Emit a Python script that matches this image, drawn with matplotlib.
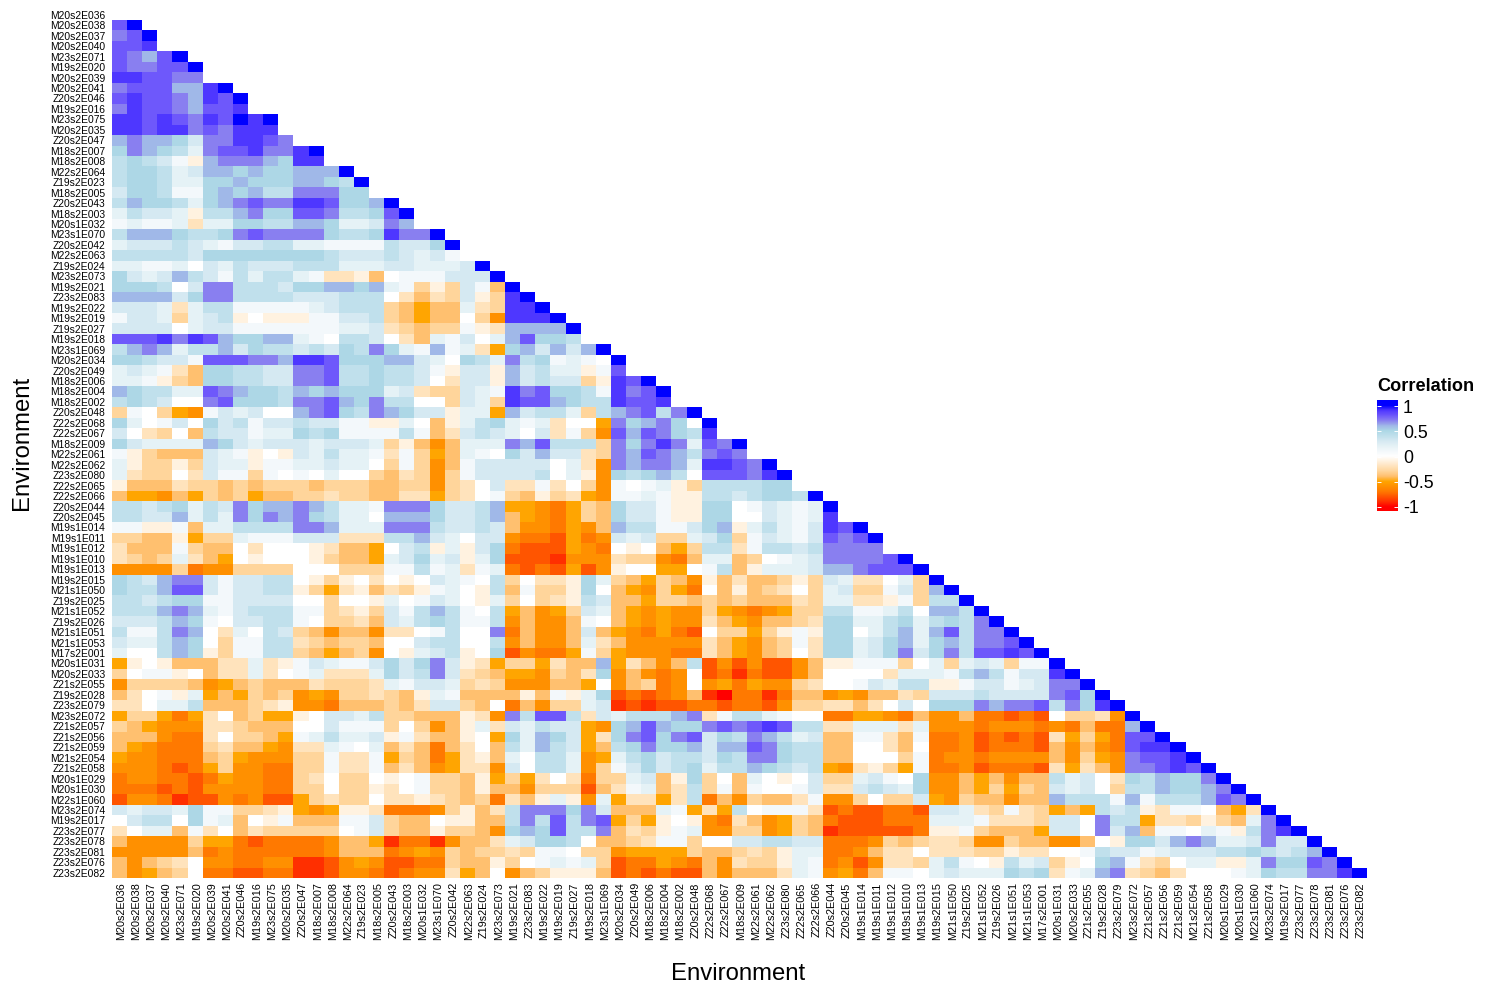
import numpy as np
import matplotlib
matplotlib.use("Agg")
import matplotlib.pyplot as plt
from matplotlib.colors import LinearSegmentedColormap, Normalize
from matplotlib.transforms import ScaledTranslation

plt.rcParams['font.family'] = ['Liberation Sans', 'DejaVu Sans']

environments = """M20s2E036 M20s2E038 M20s2E037 M20s2E040 M23s2E071 M19s2E020 M20s2E039 M20s2E041 Z20s2E046 M19s2E016
M23s2E075 M20s2E035 Z20s2E047 M18s2E007 M18s2E008 M22s2E064 Z19s2E023 M18s2E005 Z20s2E043 M18s2E003
M20s1E032 M23s1E070 Z20s2E042 M22s2E063 Z19s2E024 M23s2E073 M19s2E021 Z23s2E083 M19s2E022 M19s2E019
Z19s2E027 M19s2E018 M23s1E069 M20s2E034 Z20s2E049 M18s2E006 M18s2E004 M18s2E002 Z20s2E048 Z22s2E068
Z22s2E067 M18s2E009 M22s2E061 M22s2E062 Z23s2E080 Z22s2E065 Z22s2E066 Z20s2E044 Z20s2E045 M19s1E014
M19s1E011 M19s1E012 M19s1E010 M19s1E013 M19s2E015 M21s1E050 Z19s2E025 M21s1E052 Z19s2E026 M21s1E051
M21s1E053 M17s2E001 M20s1E031 M20s2E033 Z21s2E055 Z19s2E028 Z23s2E079 M23s2E072 Z21s2E057 Z21s2E056
Z21s2E059 M21s2E054 Z21s2E058 M20s1E029 M20s1E030 M22s1E060 M23s2E074 M19s2E017 Z23s2E077 Z23s2E078
Z23s2E081 Z23s2E076 Z23s2E082""".split()

# One string per row, one character per cell in steps of 0.1:
# 1..9 = 0.1..0.9, X = 1, 0 = 0, a..i = -0.1..-0.9, j = -1
codes = {'0': 0.0, 'X': 1.0, 'j': -1.0}
codes.update({str(k): k / 10 for k in range(1, 10)})
codes.update({c: -(k + 1) / 10 for k, c in enumerate("abcdefghi")})

correlation_rows = [
    "",
    "8X",
    "78X",
    "889",
    "8768X",
    "87788X",
    "998877",
    "7888669X",
    "89887698X",
    "798876889",
    "99898798X9X",
    "99899787999",
    "676653779987",
    "5765427889779X",
    "45431a67776599",
    "455423665655666X",
    "4554225565556654X",
    "35541156564477755",
    "465542567877998556X",
    "24332a4467558874458X",
    "12112b22554466522376",
    "466654457877775445977X",
    "2333432133442211114335X",
    "44444355555555433343231",
    "221120324333444222332223X",
    "53236431424421bbad0111333X",
    "55540377444355665621cac31dX",
    "666635774444333444" "0bdbc3ac9X",
    "3332b2441111123444" "cdedd2bc99X",
    "1332c234a0aaa11334" "cdedd0cf999X",
    "333302331111111223" "bcdcc1ab6666X",
    "888979865566210443" "0bd2130268554",
    "467624463544343547" "521612be563636X",
    "554331888776998555" "663205427451210X",
    "2321bd554433778445" "4431a33a63422a18",
    "221acd554433778445" "4430b33a63433ca98X",
    "654422876554656555" "23bcc3219785541978X",
    "454300785554778657" "4400c32c98865449889",
    "c10cef132300678547" "6533a22e63442c467847X",
    "52013053413343311a" "a20da245212b00e756750X",
    "30bc0d433122545111" "141db343203b1cf8687549",
    "532222653233323332" "cadfd222768444c75797287X",
    "1acddd321a0a324221" "b1ced21053633bc768764787",
    "2accac322a11223220" "c1cfd13333302bf7677629987X",
    "2bcc0b311c1010200c" "dbcfc13333402af54564088879X",
    "adddbccdcdcccdcccd" "dccfcb03bb1b0cf1012ac444455",
    "deefdecdceddccbccd" "dbbecb01cdacbef1121aa4434554X",
    "443452437566764221" "77753346eefgecd5331aa55013212X",
    "443362427576754220" "66653346defgecd5331aa550032129",
    "11aa1d224444776222" "77743343dffgefd64411356a2421398X",
    "ccddaecc2111333bbb" "44632033fgghegf323cc235c13213878X",
    "bddd1cdd0b000abdde" "034a2a35ghhhefg0a0dec44b144347777",
    "bcdc2bde0a000acdde" "23523a25hhhifffbccfgd22dc012377778X",
    "ffffcgffcccc000ccc" "11412b12gh" "ghehfa00ee014da2223667888X",
    "5436773133440aca0b" "0a032104c0" "bba52cdecdfadbddcac32bb02cX",
    "544688313344acebad" "bca120a4d1" "cca50defceg0dadcb0c23cc13c6X",
    "44345511333300c00a" "201320a2c0" "cba43ddeccdcdcdddbc22bba1c44X",
    "44467621344411cbac" "31464104ed" "fec32defeffcefgfecc4411240664X",
    "33346510334410ccbd" "32454114fd" "ffd10defeffbdefddcb55224524547X",
    "4114760b2043cdfddf" "bb014007gd" "ffd3defgegh0cceca1a550246268477X",
    "3224650c1144bcdccd" "00344004fd" "ffd2bdffff" "fbdefdc1b5523562564778X",
    "200465ac1144cdedcf" "0a234a05hf" "gge1cefffg" "gbdefdc0b55235735748898X",
    "ea0adddbb2ba132113" "53573abecc" "ebdd6ebdfd" "4hfhfhhfdaa111c02c232c11X",
    "c011a0dbb2b012bbb2" "53473bcdee" "fcdb5fdfgf" "0hgighhfd0000b22214641339X",
    "fccccdfedcdddbcccb" "21332cbcff" "fdde0fdcgf" "0fegeffcb0013244aa13312377X",
    "db01a2edecdcfefccb" "cda21dddda" "d1a25hghgf" "dijggigddfefddbc33343333785X",
    "bb0224dddcbaffgddd" "cdb33cd0gd" "fcc23ihihh" "gghgghfccbbdb030555767784759X",
    "eccegeb0dceea03324" "ccdddabf74" "884b324446" "7b1442100ggeefgdffdgghgh0ccbfX",
    "cdefffbbcddd003111" "c0cfda2b32" "433ef56865" "578789844bb222b2fffgfffgfgdgg6X",
    "dddfggb0ccde124223" "a1bdda0e52" "653eb57857" "835476423dd11bd1ggfhghghbeceg88X",
    "defgggcbddefbb2102" "dbdgdb0d42" "643ed45755" "636687544dd00bd0ggfhggghdfdfg899X",
    "effgggdcefffcc1bb1" "ecdgebad20" "442fe24534" "435477544dd000c1gffgffffdfcef7889X",
    "fffghgecffggcc1bb1" "dbdfebbf30" "442fc13534" "524465434efbace1ggfhggghbebdf77898X",
    "gffgghgeffggcb0cc0" "a01ccdaece" "b0bgcc23da" "5c0d20a03cc23105ffdedfdd4230b546557X",
    "ggghghffffggcc0cca" "b01ccdaddf" "ccchdb12db" "4c1d10013bb34325ffdececd3230c4465567X",
    "hffgihhfgfhhecbcc0" "bbabcdcgbd" "a2af2ebbeb" "4gdfcddb1ffc0cc3efcddfdd6444161444687X",
    "32332511ccbaefeaab" "gggfcadb47" "77573ddd21" "ebe40111bhghhggh332bc1bcede434ab110debX",
    "03440512d0a1ddd113" "cdd0aadd47" "48478ecea0" "afgbdfecdghhhggg2221bbbc330744ebbcacd27X",
    "b022d1b0dbccccc013" "cddaccdf56" "58447dbca1" "2ffccfecdihhhhhgaa1cddde330736d11021a479X",
    "dffffceeghggggfdde" "iggifddb23" "5540ddcb11" "c00334433gggfcdcbbcffcddffd0a553676223733X",
    "fffffdgfggggggfddd" "gfefcdccbc" "110ccfeeee" "cddcbca22ggfdbb0bbbccabb001433123334454346X",
    "dfdcb0ffggffiihfef" "hhggcddac0" "1212chggef" "gdfbcca21gfhfbbc2410a423ca0561bc022aa275587X",
    "dfedc0gghhggiihffg" "hgffbed0fd" "caaadhghgh" "hdfdddb21fegd11023222545b1267bcdb00012544779X",
]

bad = [(i, len(r)) for i, r in enumerate(correlation_rows) if len(r) not in (i, i + 1)]
if bad or len(correlation_rows) != len(environments):
    raise SystemExit(f"row lengths wrong: {bad} total {len(correlation_rows)}")

tick_values = [1, 0.5, 0, -0.5, -1]
tick_texts = ['1', '0.5', '0', '-0.5', '-1']

anchors = [(-1.0, '#ff0000'), (-0.9, '#ff3000'), (-0.8, '#ff5500'), (-0.7, '#ff7a00'),
           (-0.6, '#ff9000'), (-0.5, '#ffa500'), (-0.4, '#ffc070'), (-0.3, '#ffd59b'),
           (-0.2, '#ffe3bd'), (-0.1, '#fff2e0'), (0.0, '#ffffff'), (0.1, '#f3f8fb'),
           (0.2, '#e5f2f6'), (0.3, '#d5e9f2'), (0.4, '#c0e0ec'), (0.5, '#add8e6'),
           (0.6, '#a0b8e8'), (0.7, '#8a80f0'), (0.8, '#6e58fb'), (0.9, '#5038ff'),
           (1.0, '#0000ff')]
cmap = LinearSegmentedColormap.from_list('corr', [((v + 1) / 2, c) for v, c in anchors], N=512)
norm = Normalize(-1, 1)

n = len(environments)
matrix = np.full((n, n), np.nan)
for i, row in enumerate(correlation_rows):
    for j, ch in enumerate(row):
        matrix[i, j] = codes[ch]

W, H = 1485, 990
fig = plt.figure(figsize=(W / 100, H / 100), dpi=100, facecolor='white')
left, right, top, bottom = 112, 1367, 9.5, 878
ax = fig.add_axes([left / W, 1 - bottom / H, (right - left) / W, (bottom - top) / H])
ax.pcolormesh(np.arange(n + 1) - 0.5, np.arange(n + 1) - 0.5,
              np.ma.masked_invalid(matrix), cmap=cmap, norm=norm,
              shading='flat', antialiased=False, linewidth=0)
ax.set_xlim(-0.5, n - 0.5)
ax.set_ylim(n - 0.5, -0.5)
for s in ax.spines.values():
    s.set_visible(False)
ax.set_xticks(range(n))
ax.set_yticks(range(n))
ax.set_xticklabels(environments, rotation=90, fontsize=7.8, color='black', ha='center', va='top')
ax.set_yticklabels(environments, fontsize=7.4, color='black')
ax.tick_params(axis='both', length=0)
ax.tick_params(axis='x', pad=3.0)
ax.tick_params(axis='y', pad=5.0)
shift = ScaledTranslation(1.5 / 100, 0, fig.dpi_scale_trans)
for lab in ax.get_xticklabels():
    lab.set_transform(lab.get_transform() + shift)

fig.text(738 / W, 1 - 974 / H, 'Environment', fontsize=17.2, ha='center', va='center')
fig.text(22 / W, 1 - 443 / H, 'Environment', fontsize=17.2, ha='center', va='center', rotation=90)

# legend
bx0, bx1, by0, by1 = 1377, 1398, 400, 511
lo, hi = -1.08, 1.12
cax = fig.add_axes([bx0 / W, 1 - by1 / H, (bx1 - bx0) / W, (by1 - by0) / H])
grad = np.clip(np.linspace(hi, lo, 200), -1, 1).reshape(-1, 1)
cax.imshow(grad, cmap=cmap, norm=norm, aspect='auto', extent=[0, 1, lo, hi], interpolation='bilinear')
cax.set_xlim(0, 1)
cax.set_ylim(lo, hi)
cax.set_xticks([])
cax.set_yticks([])
for s in cax.spines.values():
    s.set_visible(False)
for v, t in zip(tick_values, tick_texts):
    cax.plot([0, 0.2], [v, v], color='white', lw=0.7, solid_capstyle='butt')
    cax.plot([0.8, 1], [v, v], color='white', lw=0.7, solid_capstyle='butt')
    fig.text(1403 / W, 1 - (by0 + (hi - v) / (hi - lo) * (by1 - by0) + 2) / H, t,
             fontsize=12.8, ha='left', va='center')
fig.text(1377 / W, 1 - 386.5 / H, 'Correlation', fontsize=13.1, fontweight='bold', ha='left', va='center')

fig.savefig('out.png', dpi=100, facecolor='white')
